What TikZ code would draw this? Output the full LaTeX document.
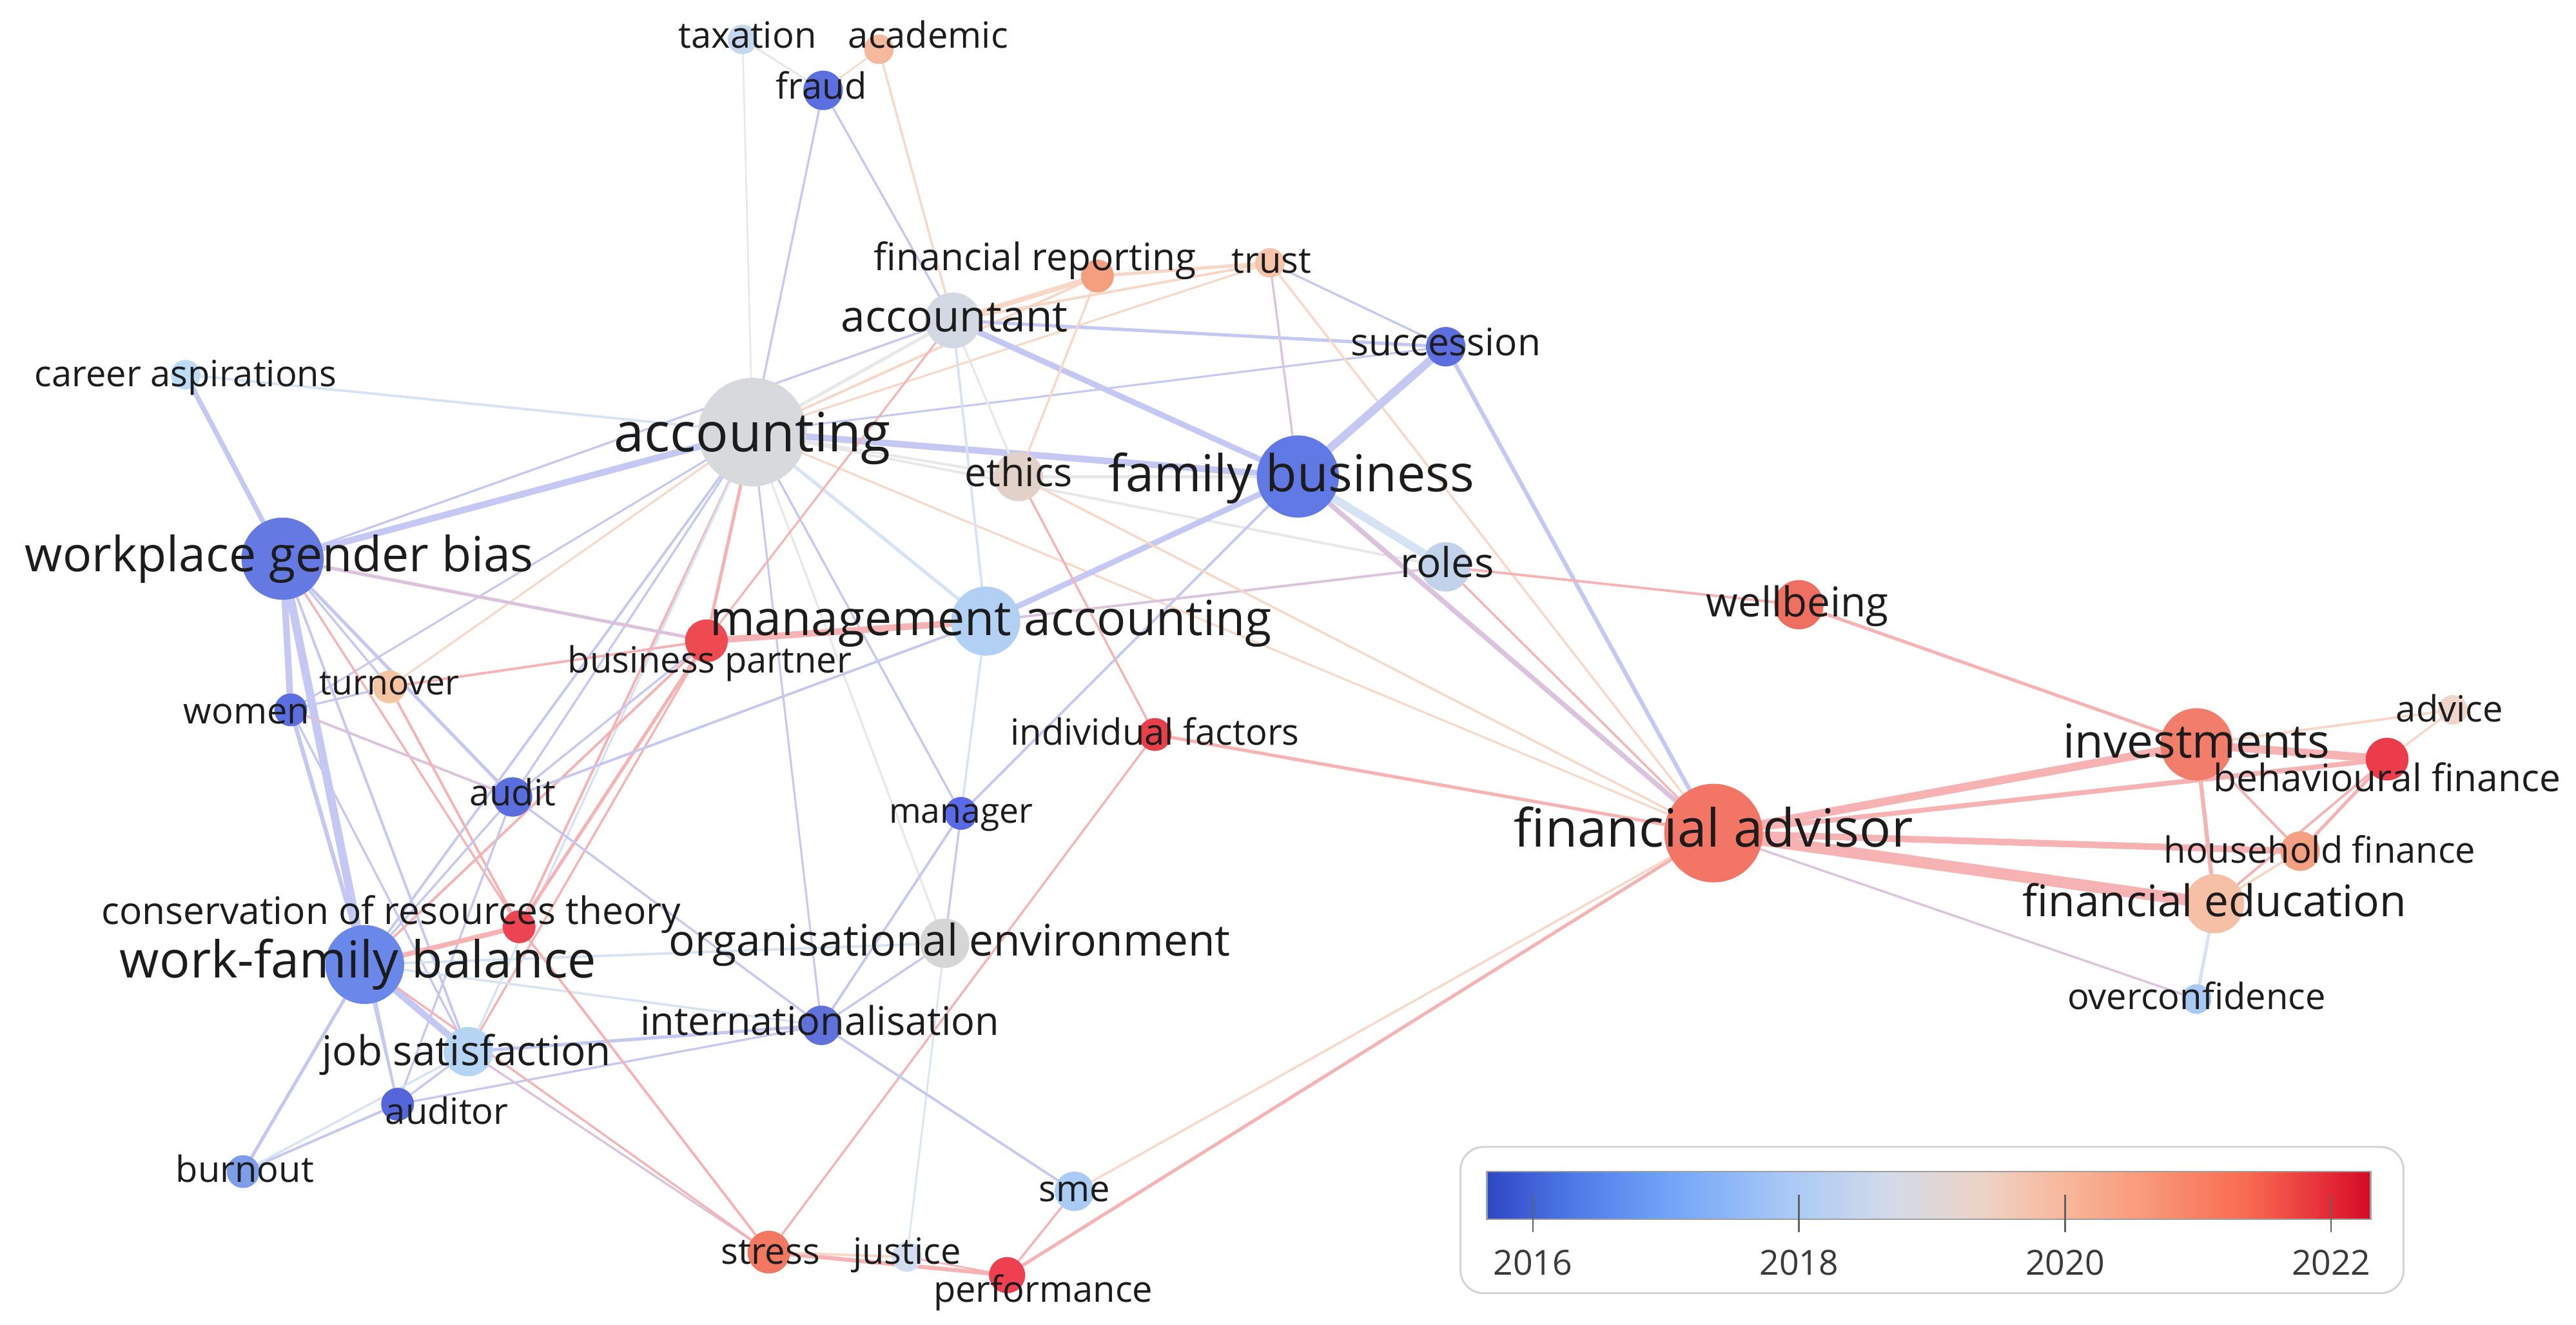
\documentclass[tikz,border=0pt]{standalone}
\usepackage{fontspec}
\setmainfont{Open Sans}
\pgfdeclarelayer{bgl}
\pgfdeclarelayer{edges}
\pgfsetlayers{bgl,edges,main}
% node colours
\definecolor{ctax}{HTML}{C5D8EE}
\definecolor{cacad}{HTML}{F5B99D}
\definecolor{cfraud}{HTML}{5B6FE0}
\definecolor{cfinrep}{HTML}{F4A07F}
\definecolor{ctrust}{HTML}{F6C4AA}
\definecolor{cacct}{HTML}{D3D9E3}
\definecolor{csucc}{HTML}{5D6FE0}
\definecolor{ccareer}{HTML}{BCDCF6}
\definecolor{cacc}{HTML}{D8D9DC}
\definecolor{cethics}{HTML}{E2D1C9}
\definecolor{cfb}{HTML}{6079E4}
\definecolor{cwgb}{HTML}{6479E2}
\definecolor{croles}{HTML}{C2D2EA}
\definecolor{cwb}{HTML}{EF7060}
\definecolor{cma}{HTML}{B2D0F4}
\definecolor{cbp}{HTML}{EF4A52}
\definecolor{cturn}{HTML}{F5C4A3}
\definecolor{cwomen}{HTML}{5B6EDF}
\definecolor{cif}{HTML}{E8404A}
\definecolor{cinv}{HTML}{F27D6A}
\definecolor{cadvice}{HTML}{EFD6CA}
\definecolor{cbf}{HTML}{EC3B4B}
\definecolor{caudit}{HTML}{5B6EDE}
\definecolor{cmgr}{HTML}{5A69E8}
\definecolor{cfa}{HTML}{F27565}
\definecolor{chf}{HTML}{F5A080}
\definecolor{cfe}{HTML}{F6C0A7}
\definecolor{ccor}{HTML}{EC4452}
\definecolor{cwfb}{HTML}{6A88EA}
\definecolor{coe}{HTML}{D6D6D6}
\definecolor{coc}{HTML}{A8CAF2}
\definecolor{cintl}{HTML}{6171DC}
\definecolor{cjs}{HTML}{B6D5F5}
\definecolor{cauditor}{HTML}{5566DC}
\definecolor{cburn}{HTML}{7D9DE9}
\definecolor{csme}{HTML}{AACBF4}
\definecolor{cstress}{HTML}{F27862}
\definecolor{cjustice}{HTML}{D2DDEF}
\definecolor{cperf}{HTML}{EE4050}
% edge colours
\definecolor{ceB}{HTML}{C4C8F3}
\definecolor{ceLB}{HTML}{D6E3F5}
\definecolor{ceG}{HTML}{E8E8EA}
\definecolor{ceR}{HTML}{F7B3B3}
\definecolor{ceO}{HTML}{F9D7C6}
\definecolor{ceP}{HTML}{DCC3DD}
\definecolor{txt}{HTML}{1C1C1C}
\definecolor{legbd}{HTML}{D4D4D4}
\definecolor{legtxt}{HTML}{3A3A3A}
% colour bar
\definecolor{cw0}{HTML}{2F47C4}
\definecolor{cw1}{HTML}{4F7AE8}
\definecolor{cw2}{HTML}{6FA2F7}
\definecolor{cw3}{HTML}{A9C9F7}
\definecolor{cw4}{HTML}{D4DBE8}
\definecolor{cw5}{HTML}{EDD3C6}
\definecolor{cw6}{HTML}{F8B597}
\definecolor{cw7}{HTML}{F99A7C}
\definecolor{cw8}{HTML}{F86B50}
\definecolor{cw9}{HTML}{E8333A}
\definecolor{cw10}{HTML}{D40A25}
\pgfdeclarehorizontalshading{coolwarm}{100bp}{color(0bp)=(cw0); color(25bp)=(cw0);
 color(30bp)=(cw1); color(35bp)=(cw2); color(42bp)=(cw3); color(48bp)=(cw4);
 color(53bp)=(cw5); color(58bp)=(cw6); color(62bp)=(cw7); color(68bp)=(cw8);
 color(72bp)=(cw9); color(75bp)=(cw10); color(100bp)=(cw10)}
\tikzset{
  bub/.style 2 args={circle, inner sep=0pt, minimum size=#1pt, fill=#2},
  lab/.style={anchor=base, inner sep=0pt, text=txt,
    font=\fontsize{#1}{#1}\selectfont, yshift={-0.33*#1*1pt}},
  ed/.style={line cap=round},
  eB/.style={ed, draw=ceB, line width=#1pt},
  eLB/.style={ed, draw=ceLB, line width=#1pt},
  eG/.style={ed, draw=ceG, line width=#1pt},
  eR/.style={ed, draw=ceR, line width=#1pt},
  eO/.style={ed, draw=ceO, line width=#1pt},
  eP/.style={ed, draw=ceP, line width=#1pt},
  tick/.style={draw=legtxt!80, line width=0.9pt},
  yearlab/.style={anchor=base, inner sep=0pt, text=legtxt,
    font=\fontsize{21}{21}\selectfont},
}
\begin{document}
\begin{tikzpicture}[x=1pt,y=-1pt]
\begin{pgfonlayer}{bgl}
\fill[white] (0,0) rectangle (1568,806);
\end{pgfonlayer}
\useasboundingbox (0,0) rectangle (1568,806);
% ---------- bubbles ----------
\node[bub={18}{ctax}] (tax) at (452,24) {};
\node[bub={18}{cacad}] (acad) at (535,30) {};
\node[bub={24}{cfraud}] (fraud) at (501,55) {};
\node[bub={20}{cfinrep}] (finrep) at (668,168) {};
\node[bub={18}{ctrust}] (trust) at (773,160) {};
\node[bub={34}{cacct}] (acct) at (580,195) {};
\node[bub={24}{csucc}] (succ) at (880,211) {};
\node[bub={18}{ccareer}] (career) at (113,228) {};
\node[bub={66}{cacc}] (acc) at (458,263) {};
\node[bub={30}{cethics}] (ethics) at (620,290) {};
\node[bub={50}{cfb}] (fb) at (790,290) {};
\node[bub={50}{cwgb}] (wgb) at (172,340) {};
\node[bub={30}{croles}] (roles) at (880,345) {};
\node[bub={30}{cwb}] (wb) at (1095,368) {};
\node[bub={42}{cma}] (ma) at (600,378) {};
\node[bub={26}{cbp}] (bp) at (430,390) {};
\node[bub={20}{cturn}] (turn) at (237,418) {};
\node[bub={20}{cwomen}] (women) at (177,432) {};
\node[bub={20}{cif}] (if) at (703,447) {};
\node[bub={44}{cinv}] (inv) at (1337,453) {};
\node[bub={18}{cadvice}] (advice) at (1493,432) {};
\node[bub={26}{cbf}] (bf) at (1453,462) {};
\node[bub={24}{caudit}] (audit) at (312,485) {};
\node[bub={20}{cmgr}] (mgr) at (585,495) {};
\node[bub={60}{cfa}] (fa) at (1043,507) {};
\node[bub={24}{chf}] (hf) at (1400,518) {};
\node[bub={36}{cfe}] (fe) at (1348,550) {};
\node[bub={20}{ccor}] (cor) at (316,564) {};
\node[bub={48}{cwfb}] (wfb) at (222,587) {};
\node[bub={30}{coe}] (oe) at (575,574) {};
\node[bub={18}{coc}] (oc) at (1337,608) {};
\node[bub={24}{cintl}] (intl) at (500,624) {};
\node[bub={30}{cjs}] (js) at (285,640) {};
\node[bub={20}{cauditor}] (auditor) at (242,672) {};
\node[bub={20}{cburn}] (burn) at (148,713) {};
\node[bub={24}{csme}] (sme) at (654,725) {};
\node[bub={26}{cstress}] (stress) at (468,762) {};
\node[bub={18}{cjustice}] (justice) at (552,765) {};
\node[bub={22}{cperf}] (perf) at (613,776) {};
% ---------- edges ----------
\begin{pgfonlayer}{edges}
% accounting
\draw[eG=1] (acc) -- (tax);
\draw[eB=1.3] (acc) -- (fraud);
\draw[eG=2] (acc) -- (acct);
\draw[eLB=1.5] (acc) -- (career);
\draw[eB=4] (acc) -- (wgb);
\draw[eB=4] (acc) -- (fb);
\draw[eG=1.5] (acc) -- (ethics);
\draw[eG=1.5] (acc) -- (roles);
\draw[eLB=2] (acc) -- (ma);
\draw[eR=2] (acc) -- (bp);
\draw[eB=1.2] (acc) -- (women);
\draw[eO=1.2] (acc) -- (turn);
\draw[eB=1.3] (acc) -- (audit);
\draw[eB=1.5] (acc) -- (wfb);
\draw[eR=1.5] (acc) -- (cor);
\draw[eLB=1.3] (acc) -- (js);
\draw[eG=1.3] (acc) -- (oe);
\draw[eB=1.3] (acc) -- (mgr);
\draw[eB=1.2] (acc) -- (intl);
\draw[eO=1.2] (acc) -- (fa);
\draw[eO=1.5] (acc) -- (finrep);
\draw[eO=1.2] (acc) -- (trust);
\draw[eB=1.2] (acc) -- (succ);
% top
\draw[eG=1.3] (fraud) -- (tax);
\draw[eO=1] (fraud) -- (acad);
\draw[eB=1.3] (fraud) -- (acct);
\draw[eO=1.3] (acad) -- (acct);
\draw[eO=3] (acct) -- (finrep);
\draw[eO=1.5] (acct) -- (trust);
\draw[eB=2] (acct) -- (succ);
\draw[eB=3.5] (acct) -- (fb);
\draw[eG=1.3] (acct) -- (ethics);
\draw[eLB=1.5] (acct) -- (ma);
\draw[eB=1.3] (acct) -- (wgb);
\draw[eR=1.2] (acct) -- (bp);
\draw[eO=2] (finrep) -- (trust);
\draw[eO=1.3] (finrep) -- (ethics);
\draw[eB=1.3] (trust) -- (succ);
\draw[eP=1.3] (trust) -- (fb);
\draw[eO=1.3] (trust) -- (fa);
\draw[eB=5] (succ) -- (fb);
\draw[eB=2.5] (succ) -- (fa);
% family business / roles
\draw[eLB=5] (fb) -- (roles);
\draw[eP=3] (fb) -- (fa);
\draw[eB=3.5] (fb) -- (ma);
\draw[eB=1.5] (fb) -- (mgr);
\draw[eG=2] (fb) -- (ethics);
\draw[eR=1.5] (roles) -- (wb);
\draw[eP=1.5] (roles) -- (ma);
\draw[eR=1.3] (roles) -- (fa);
\draw[eR=2] (wb) -- (inv);
% financial advisor cluster
\draw[eR=5] (fa) -- (inv);
\draw[eR=3] (fa) -- (bf);
\draw[eR=4] (fa) -- (hf);
\draw[eR=7] (fa) -- (fe);
\draw[eP=1.3] (fa) -- (oc);
\draw[eR=2] (fa) -- (if);
\draw[eR=2] (fa) -- (perf);
\draw[eO=1.3] (fa) -- (sme);
\draw[eO=1.3] (fa) -- (ethics);
\draw[eO=1.5] (inv) -- (advice);
\draw[eR=5] (inv) -- (bf);
\draw[eR=1.5] (inv) -- (hf);
\draw[eR=2.5] (inv) -- (fe);
\draw[eO=1.3] (bf) -- (advice);
\draw[eR=2] (bf) -- (hf);
\draw[eR=1.5] (bf) -- (fe);
\draw[eO=1.5] (hf) -- (fe);
\draw[eLB=2] (fe) -- (oc);
% workplace gender bias
\draw[eB=3] (wgb) -- (career);
\draw[eP=2] (wgb) -- (bp);
\draw[eB=4] (wgb) -- (women);
\draw[eB=1.3] (wgb) -- (turn);
\draw[eB=2] (wgb) -- (audit);
\draw[eB=5] (wgb) -- (wfb);
\draw[eR=1.3] (wgb) -- (cor);
\draw[eB=1.5] (wgb) -- (js);
\draw[eB=1.3] (wgb) -- (auditor);
% women, turnover, business partner
\draw[eB=1.3] (women) -- (turn);
\draw[eP=1.5] (women) -- (audit);
\draw[eB=2.5] (women) -- (wfb);
\draw[eB=1.3] (women) -- (js);
\draw[eR=1.5] (turn) -- (bp);
\draw[eR=1.5] (turn) -- (cor);
\draw[eR=4] (bp) -- (ma);
\draw[eR=2] (bp) -- (cor);
\draw[eR=1.5] (bp) -- (wfb);
\draw[eB=1.3] (bp) -- (audit);
\draw[eR=1.3] (bp) -- (js);
% middle
\draw[eB=1.5] (ma) -- (audit);
\draw[eLB=1.3] (ma) -- (mgr);
\draw[eR=1.3] (ethics) -- (if);
\draw[eR=1.3] (if) -- (stress);
\draw[eB=1.5] (mgr) -- (intl);
\draw[eB=1.3] (mgr) -- (oe);
\draw[eB=1.3] (oe) -- (intl);
\draw[eLB=1.5] (oe) -- (wfb);
\draw[eLB=1] (oe) -- (justice);
\draw[eB=1.5] (intl) -- (sme);
\draw[eB=2] (intl) -- (js);
\draw[eB=1.3] (intl) -- (auditor);
\draw[eB=1.3] (intl) -- (audit);
\draw[eLB=1.3] (intl) -- (wfb);
% lower left
\draw[eB=4] (js) -- (wfb);
\draw[eP=1.3] (js) -- (stress);
\draw[eB=1.3] (js) -- (auditor);
\draw[eB=1.5] (auditor) -- (burn);
\draw[eB=1.3] (auditor) -- (wfb);
\draw[eB=1.3] (auditor) -- (audit);
\draw[eB=2] (burn) -- (wfb);
\draw[eLB=1.3] (burn) -- (js);
\draw[eR=3] (wfb) -- (cor);
\draw[eB=1.3] (wfb) -- (audit);
\draw[eR=1.3] (wfb) -- (stress);
\draw[eR=1.5] (cor) -- (stress);
% bottom
\draw[eR=1.3] (sme) -- (perf);
\draw[eR=2.5] (stress) -- (perf);
\draw[eO=1.5] (stress) -- (justice);
\draw[eR=1] (justice) -- (perf);
\end{pgfonlayer}
% ---------- labels ----------
\node[lab=22] (l-tax) at (455,22) {taxation};
\node[lab=22] (l-acad) at (565,22) {academic};
\node[lab=22] (l-fraud) at (500,53) {fraud};
\node[lab=23] (l-finrep) at (630,157) {financial reporting};
\node[lab=22] (l-trust) at (774,159) {trust};
\node[lab=26.5] (l-acct) at (581,193) {accountant};
\node[lab=23] (l-succ) at (880,209) {succession};
\node[lab=22] (l-career) at (113,228) {career aspirations};
\node[lab=33] (l-acc) at (458,264) {accounting};
\node[lab=24] (l-ethics) at (620,288) {ethics};
\node[lab=31] (l-fb) at (786,289) {family business};
\node[lab=29.5] (l-wgb) at (170,338) {workplace gender bias};
\node[lab=25] (l-roles) at (881,343) {roles};
\node[lab=25] (l-wb) at (1094,367) {wellbeing};
\node[lab=29.5] (l-ma) at (603,377) {management accounting};
\node[lab=22] (l-bp) at (432,402) {business partner};
\node[lab=21] (l-turn) at (237,416) {turnover};
\node[lab=22] (l-women) at (150,433) {women};
\node[lab=22] (l-if) at (703,446) {individual factors};
\node[lab=28.5] (l-inv) at (1337,452) {investments};
\node[lab=22] (l-advice) at (1491,432) {advice};
\node[lab=23] (l-bf) at (1453,474) {behavioural finance};
\node[lab=22] (l-audit) at (312,483) {audit};
\node[lab=21] (l-mgr) at (585,494) {manager};
\node[lab=32] (l-fa) at (1043,505) {financial advisor};
\node[lab=22] (l-hf) at (1412,518) {household finance};
\node[lab=26.5] (l-fe) at (1348,549) {financial education};
\node[lab=23] (l-cor) at (238,555) {conservation of resources theory};
\node[lab=31] (l-wfb) at (218,585) {work-family balance};
\node[lab=26.5] (l-oe) at (578,573) {organisational environment};
\node[lab=22] (l-oc) at (1337,607) {overconfidence};
\node[lab=24] (l-intl) at (499,622) {internationalisation};
\node[lab=25] (l-js) at (284,640) {job satisfaction};
\node[lab=22] (l-auditor) at (272,677) {auditor};
\node[lab=22] (l-burn) at (149,712) {burnout};
\node[lab=22] (l-sme) at (654,724) {sme};
\node[lab=22] (l-stress) at (469,762) {stress};
\node[lab=22] (l-justice) at (552,762) {justice};
\node[lab=22] (l-perf) at (635,785) {performance};
% ---------- legend ----------
\node[draw=legbd, line width=1.2pt, rounded corners=14pt, fill=white,
  minimum width=574pt, minimum height=89pt, inner sep=0pt] (leg) at (1176,742.5) {};
\node[shade, shading=coolwarm, draw=gray!75, line width=1pt,
  minimum width=538pt, minimum height=29pt, inner sep=0pt] (bar) at (1174,727.5) {};
\draw[tick] (933,727) -- (933,750);
\draw[tick] (1095,727) -- (1095,750);
\draw[tick] (1257,727) -- (1257,750);
\draw[tick] (1419,727) -- (1419,750);
\node[yearlab] (y16) at (933,776) {2016};
\node[yearlab] (y18) at (1095,776) {2018};
\node[yearlab] (y20) at (1257,776) {2020};
\node[yearlab] (y22) at (1419,776) {2022};
\end{tikzpicture}
\end{document}
